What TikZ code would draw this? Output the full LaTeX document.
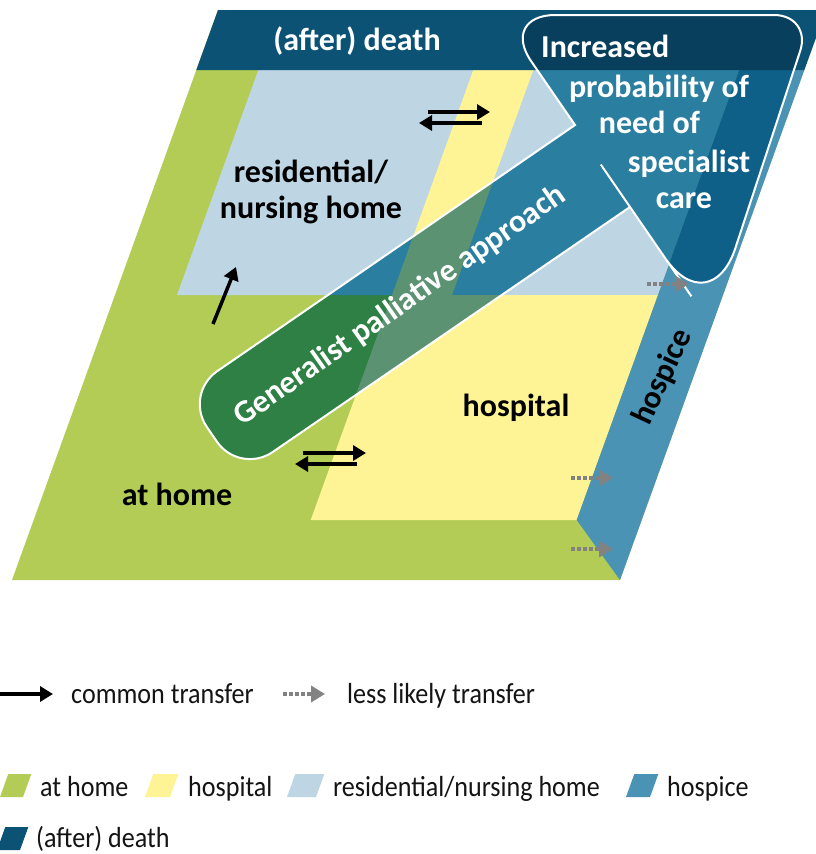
\documentclass[tikz,border=0pt]{standalone}
\usepackage{fontspec}
\setmainfont{Carlito}
\newfontfamily\legfont{Carlito}[FakeStretch=0.9]
\usetikzlibrary{arrows.meta}
\definecolor{homeC}{RGB}{178,204,85}
\definecolor{hospC}{RGB}{254,243,149}
\definecolor{resC}{RGB}{190,213,228}
\definecolor{hospiceC}{RGB}{74,147,181}
\definecolor{deathC}{RGB}{12,82,117}
\definecolor{ovHome}{RGB}{46,128,68}
\definecolor{ovHosp}{RGB}{91,146,114}
\definecolor{ovRes}{RGB}{42,126,160}
\definecolor{ovHospice}{RGB}{14,96,136}
\definecolor{ovDeath}{RGB}{8,63,92}
\definecolor{lessC}{RGB}{130,130,130}
\definecolor{txtC}{RGB}{20,20,20}
\newcommand\palarrowpath{(M3) -- (E) -- (M0) [rounded corners=56pt] -- (A) -- (N1) [rounded corners=38pt] -- (B) -- (N2) [rounded corners=80pt] -- (C) -- (M1) [sharp corners] -- (D) -- (M2) [rounded corners=40pt] -- (L) -- (U) -- cycle}
\newcommand\homeshape{(218,10) -- (826,10) -- (620,580) -- (12,580) -- cycle}
\newcommand\resshape{(258.3,70) -- (739.3,70) -- (658,295) -- (177,295) -- cycle}
\newcommand\stripshape{(473.3,70) -- (533.3,70) -- (452,295) -- (392,295) -- cycle}
\newcommand\hospshape{(392,295) -- (658,295) -- (576.7,520) -- (310.7,520) -- cycle}
\newcommand\hospiceshape{(739.3,70) -- (804.3,70) -- (620,580) -- (576.7,520) -- cycle}
\newcommand\deathshape{(218,10) -- (826,10) -- (804.3,70) -- (196.3,70) -- cycle}
\tikzset{
  lbl/.style={font=\bfseries\fontsize{32}{38}\selectfont, text=black, inner sep=0pt},
  wlbl/.style={font=\bfseries\fontsize{32}{38}\selectfont, text=white, inner sep=0pt},
  leg/.style={font=\legfont\fontsize{29}{34}\selectfont, text=txtC, inner sep=0pt, anchor=base west},
  common/.style={line width=3.5pt, black, -{Triangle[length=13pt,width=15pt]}},
  lesslikely/.style={line width=3.5pt, lessC, dash pattern=on 4pt off 2pt, -{Triangle[length=14pt,width=16pt,fill=lessC]}},
}
\begin{document}
\begin{tikzpicture}[x=1pt,y=-1pt]
\useasboundingbox (0,0) rectangle (816,854);
\clip (0,0) rectangle (816,854);
\fill[white] (0,0) rectangle (816,854);
% regions
\fill[homeC] \homeshape;
\fill[resC] \resshape;
\fill[hospC] \stripshape;
\fill[hospC] \hospshape;
\fill[hospiceC] \hospiceshape;
\fill[deathC] \deathshape;
% arrow geometry
\coordinate (E) at (575,125);
\coordinate (A) at (499.4,15);
\coordinate (B) at (812,15);
\coordinate (C) at (710.4,324);
\coordinate (D) at (630,207);
\coordinate (L) at (239.6,474.7);
\coordinate (U) at (184.2,393.9);
\coordinate (M0) at (542,77);
\coordinate (N1) at (655.7,15);
\coordinate (N2) at (761.2,169.5);
\coordinate (M1) at (646.1,230.4);
\coordinate (M2) at (434.8,340.9);
\coordinate (M3) at (379.6,259.5);
\begin{scope}
\clip \palarrowpath;
\fill[ovHome] \homeshape;
\fill[ovRes] \resshape;
\fill[ovHosp] \stripshape;
\fill[ovHosp] \hospshape;
\fill[ovHospice] \hospiceshape;
\fill[ovDeath] \deathshape;
\end{scope}
\draw[white, line width=2pt] \palarrowpath;
% labels
\node[wlbl, anchor=base] (tdeath) at (357,50) {(after) death};
\node[wlbl, anchor=base west] (t1) at (541,57) {Increased};
\node[wlbl, anchor=base] (t2) at (659,97) {probability of};
\node[wlbl, anchor=base] (t3) at (649.5,133) {need of};
\node[wlbl, anchor=base] (t4) at (689,172) {specialist};
\node[wlbl, anchor=base] (t5) at (684,208) {care};
\node[wlbl, rotate=35] (tgen) at (400,306) {Generalist palliative approach};
\node[lbl, anchor=base] (tres1) at (311,182) {residential/};
\node[lbl, anchor=base] (tres2) at (311,218) {nursing home};
\node[lbl, anchor=base] (thosp) at (516,416) {hospital};
\node[lbl, anchor=base] (thome) at (177,505) {at home};
\node[lbl, rotate=65] (thospice) at (663,377) {hospice};
% transfer arrows
\coordinate (a1s) at (428,112); \coordinate (a1e) at (490,112);
\coordinate (a2s) at (482,123); \coordinate (a2e) at (419,123);
\coordinate (b1s) at (303,453); \coordinate (b1e) at (366,453);
\coordinate (b2s) at (357,464); \coordinate (b2e) at (295,464);
\coordinate (c1s) at (213,324); \coordinate (c1e) at (236,267);
\draw[common] (a1s) -- (a1e);
\draw[common] (a2s) -- (a2e);
\draw[common] (b1s) -- (b1e);
\draw[common] (b2s) -- (b2e);
\draw[common] (c1s) -- (c1e);
\coordinate (g1s) at (647,284); \coordinate (g1e) at (689,284);
\coordinate (g2s) at (571,478); \coordinate (g2e) at (613,478);
\coordinate (g3s) at (571,549); \coordinate (g3e) at (613,549);
\draw[lesslikely] (g1s) -- (g1e);
\draw[lesslikely] (g2s) -- (g2e);
\draw[lesslikely] (g3s) -- (g3e);
% legend arrows
\coordinate (l1s) at (-2,694); \coordinate (l1e) at (53,694);
\coordinate (l2s) at (283,694); \coordinate (l2e) at (325,694);
\draw[common] (l1s) -- (l1e);
\draw[lesslikely] (l2s) -- (l2e);
\node[leg] (lcommon) at (71,703) {common transfer};
\node[leg] (lless) at (347,703) {less likely transfer};
% legend swatches
\fill[homeC] (8.3,774) -- (31.3,774) -- (23,797) -- (0,797) -- cycle;
\fill[hospC] (153.3,774) -- (178.3,774) -- (170,797) -- (145,797) -- cycle;
\fill[resC] (295.3,774) -- (324.3,774) -- (316,797) -- (287,797) -- cycle;
\fill[hospiceC] (634.3,774) -- (658.3,774) -- (650,797) -- (626,797) -- cycle;
\fill[deathC] (5.3,827) -- (28.3,827) -- (20,850) -- (-3,850) -- cycle;
\node[leg] (lhome) at (40,796) {at home};
\node[leg] (lhosp) at (188,796) {hospital};
\node[leg] (lres) at (333,796) {residential/nursing home};
\node[leg] (lhospice) at (667,796) {hospice};
\node[leg] (ldeath) at (36,847) {(after) death};
\end{tikzpicture}
\end{document}
